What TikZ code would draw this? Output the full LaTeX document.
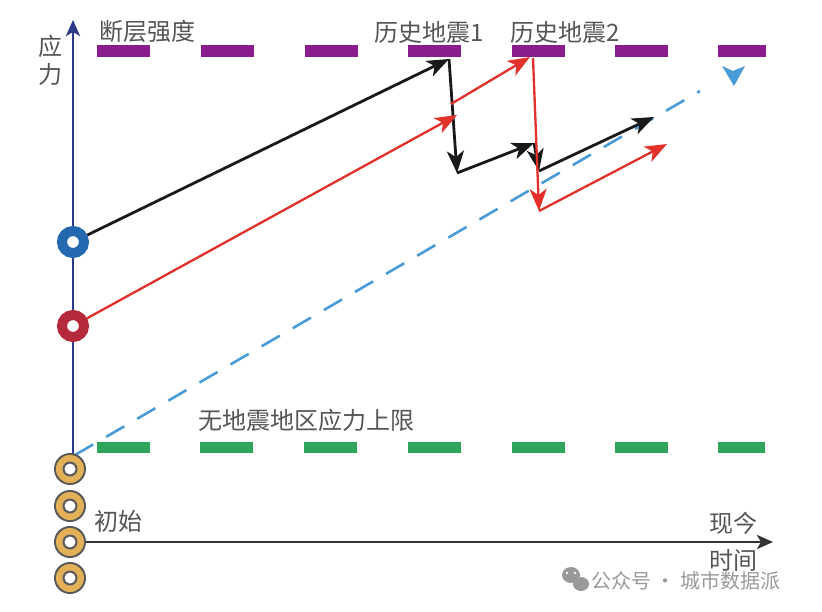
\documentclass[tikz,border=0pt]{standalone}
\usepackage{fontspec}
\newfontfamily\cjk{Noto Sans CJK SC}
\usetikzlibrary{arrows.meta}
\definecolor{purp}{HTML}{8B1C8C}
\definecolor{grn}{HTML}{2EA55A}
\definecolor{bdash}{HTML}{4A9BD5}
\definecolor{redl}{HTML}{E2302A}
\definecolor{navy}{HTML}{2E3A87}
\definecolor{cblue}{HTML}{2468B0}
\definecolor{cred}{HTML}{B52A3A}
\definecolor{yel}{HTML}{E2B057}
\definecolor{txt}{HTML}{555555}
\begin{document}
\begin{tikzpicture}[x=1pt,y=-1pt,
  lbl/.style={font=\cjk\fontsize{24}{26}\selectfont, text=txt, inner sep=0pt},
  tip/.style={-{Stealth[length=22pt,width=17pt,inset=6pt]}},
  axtip/.style={-{Stealth[length=16pt,width=14pt,inset=4pt]}},
  blk/.style={tip, draw=black!90, line width=2.8pt},
  rdl/.style={tip, draw=redl, line width=2.3pt},
  ring/.style={circle, draw=#1, line width=10pt, minimum size=22pt, inner sep=0pt, fill=white}
]
\useasboundingbox (0,0) rectangle (822,611);
\fill[white] (0,0) rectangle (822,611);

% dashes
\foreach \x in {97,201,305,408,512,615}
  \fill[purp] (\x,45) rectangle ++(53,12);
\fill[purp] (718,45) rectangle (766,57);
\foreach \x in {97,200,304,408,512,615}
  \fill[grn] (\x,442) rectangle ++(53,11);
\fill[grn] (718,442) rectangle (765,453);

% axes
\coordinate (ybot) at (73,470);
\coordinate (ytop) at (73,20);
\draw[navy, line width=2.6pt, axtip] (ybot) -- (ytop);
\coordinate (xl) at (70,542);
\coordinate (xr) at (773,542);
\draw[black!80, line width=2.8pt, axtip] (xl) -- (xr);

% blue dashed
\coordinate (d0) at (75,455);
\coordinate (d1) at (700,91);
\draw[bdash, line width=2.6pt, dash pattern=on 21pt off 15pt] (d0) -- (d1);
\fill[bdash] (722,66) -- (733,71) -- (745,66) -- (734,86) -- cycle;

% turning points
\coordinate (b1) at (449,59);
\coordinate (b2) at (457,173);
\coordinate (b3) at (534,143);
\coordinate (b4) at (539,171);
\coordinate (b5) at (654,117);
\coordinate (r1) at (457,115);
\coordinate (r1s) at (451,104);
\coordinate (r2) at (530,57);
\coordinate (r2s) at (533,58);
\coordinate (r3) at (539,211);
\coordinate (r4) at (667,144);

% circles
\node[ring=cblue] (cb) at (73,242) {};
\node[ring=cred] (cr) at (73,326) {};

% black path
\draw[blk] (cb) -- (b1);
\draw[blk] (b1) -- (b2);
\draw[blk] (b2) -- (b3);
\draw[blk] (b3) -- (b4);
\draw[blk] (b4) -- (b5);

% red path
\draw[rdl] (cr) -- (r1);
\draw[rdl] (r1s) -- (r2);
\draw[rdl] (r2s) -- (r3);
\draw[rdl] (r3) -- (r4);

% yellow circles
\foreach \y/\n in {469/y1,506/y2,542/y3,578/y4}{
  \fill[black!65] (70,\y) circle (16pt);
  \fill[yel] (70,\y) circle (14pt);
  \fill[black!65] (70,\y) circle (7.5pt);
  \node[circle, fill=white, minimum size=11pt, inner sep=0pt] (\n) at (70,\y) {};
}

% labels
\node[lbl, anchor=center] (yl1) at (50,46) {应};
\node[lbl, anchor=center] (yl2) at (50,74) {力};
\node[lbl, anchor=west] (fs) at (99,31) {断层强度};
\node[lbl, anchor=west] (e1) at (374,32) {历史地震1};
\node[lbl, anchor=west] (e2) at (510,32) {历史地震2};
\node[lbl, anchor=west] (ns) at (198,420) {无地震地区应力上限};
\node[lbl, anchor=west] (init) at (94,521) {初始};
\node[lbl, anchor=west] (now) at (709,523) {现今};
\node[lbl, anchor=west] (tm) at (709,560) {时间};

% watermark text
\fill[black!40] (571,575) ellipse (9pt and 8pt);
\fill[black!40] (581,584) ellipse (8pt and 7pt);
\fill[white] (567,573) circle (1.3pt) (575,573) circle (1.3pt);
\node[font=\cjk\fontsize{20}{22}\selectfont, text=black!40, anchor=west, inner sep=0pt] (wm) at (591,581) {公众号 · 城市数据派};
\end{tikzpicture}
\end{document}
